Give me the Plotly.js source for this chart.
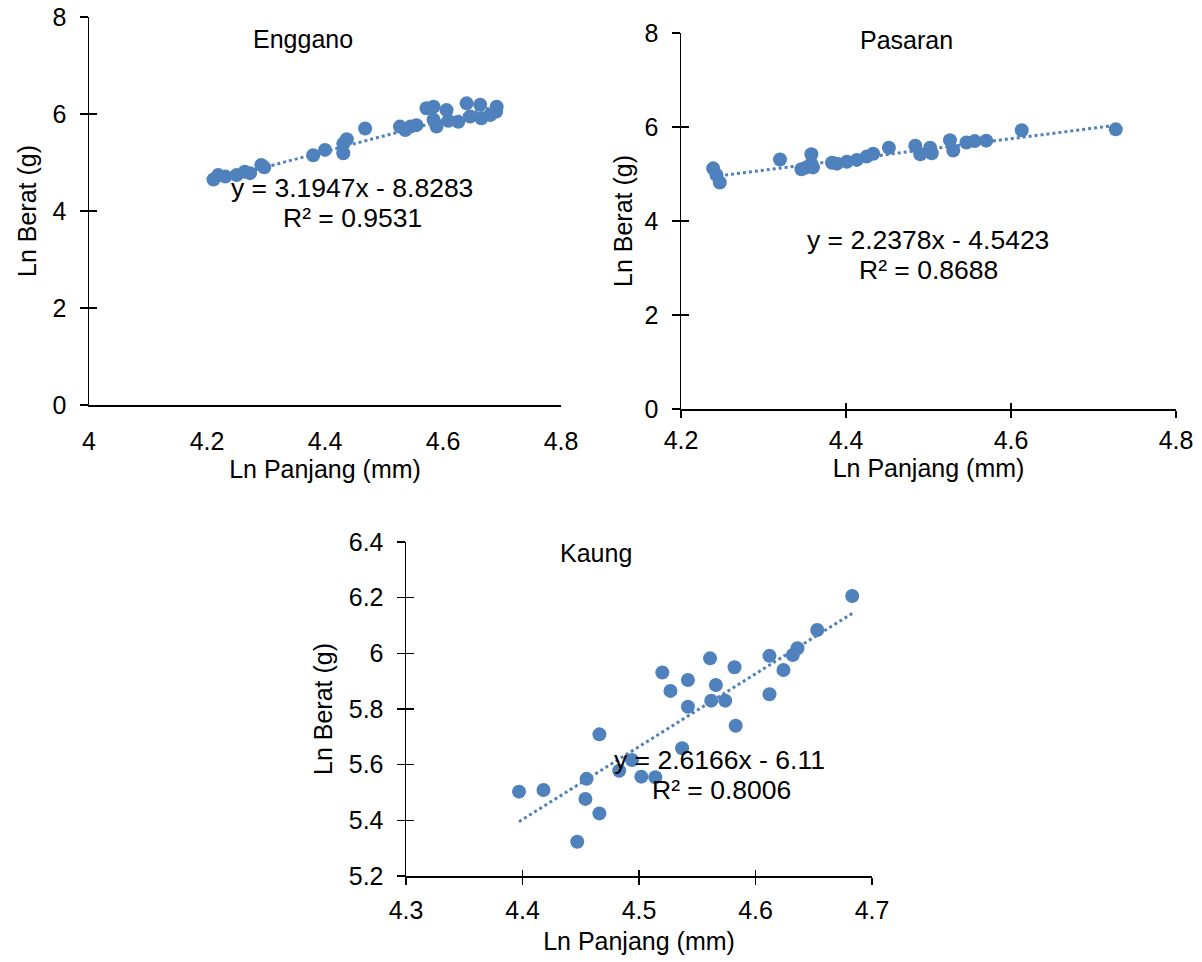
<!DOCTYPE html>
<html>
<head>
<meta charset="utf-8">
<script src="https://cdn.plot.ly/plotly-3.0.1.min.js"></script>
<style>html,body{margin:0;padding:0;background:#fff;}#chart{width:1202px;height:962px;}</style>
</head>
<body>
<div id="chart"></div>
<script>
// ---- Data ----
const engganoX = [4.211, 4.219, 4.231, 4.250, 4.264, 4.273, 4.292, 4.297, 4.380, 4.400, 4.431, 4.437, 4.431,
  4.468, 4.527, 4.536, 4.545, 4.555, 4.572, 4.584, 4.584, 4.589, 4.606, 4.609, 4.626, 4.640, 4.646, 4.663,
  4.665, 4.680, 4.691, 4.690];
const engganoY = [4.65, 4.74, 4.71, 4.74, 4.81, 4.78, 4.95, 4.90, 5.15, 5.26, 5.39, 5.48, 5.19,
  5.70, 5.74, 5.67, 5.74, 5.77, 6.12, 6.15, 5.88, 5.74, 6.08, 5.86, 5.84, 6.22, 5.95, 6.19,
  5.91, 5.98, 6.15, 6.05];

const pasaranX = [4.239, 4.243, 4.247, 4.320, 4.346, 4.352, 4.358, 4.358, 4.360, 4.383, 4.389, 4.401, 4.413,
  4.425, 4.433, 4.452, 4.484, 4.490, 4.502, 4.504, 4.526, 4.530, 4.546, 4.556, 4.570, 4.613, 4.727];
const pasaranY = [5.12, 4.98, 4.82, 5.31, 5.10, 5.14, 5.42, 5.22, 5.14, 5.24, 5.22, 5.26, 5.30,
  5.37, 5.43, 5.56, 5.60, 5.42, 5.56, 5.44, 5.72, 5.50, 5.67, 5.70, 5.71, 5.93, 5.95];

const kaungX = [4.397, 4.418, 4.447, 4.454, 4.455, 4.466, 4.466, 4.483, 4.494, 4.502, 4.514, 4.520, 4.527,
  4.537, 4.542, 4.542, 4.561, 4.562, 4.566, 4.574, 4.582, 4.583, 4.612, 4.612, 4.624, 4.632, 4.636,
  4.653, 4.683];
const kaungY = [5.503, 5.509, 5.323, 5.477, 5.549, 5.425, 5.709, 5.578, 5.617, 5.557, 5.555, 5.931, 5.865,
  5.659, 5.904, 5.808, 5.982, 5.830, 5.886, 5.830, 5.950, 5.740, 5.991, 5.853, 5.940, 5.994, 6.018,
  6.084, 6.206];

const siteNames = ["Enggano", "Pasaran", "Kaung"];
const slopes = [3.1947, 2.2378, 2.6166];
const intercepts = [-8.8283, -4.5423, -6.11];
const eqLabels = ["y = 3.1947x - 8.8283", "y = 2.2378x - 4.5423", "y = 2.6166x - 6.11"];
const r2Labels = ["R² = 0.9531", "R² = 0.8688", "R² = 0.8006"];
const xTitle = "Ln Panjang (mm)";
const yTitle = "Ln Berat (g)";

// ---- Styling ----
const BLUE = "#4F81BD";
const FONT = "Liberation Sans, Arial, sans-serif";
const W = 1202, H = 962;
const fs = 25;

// pixel boxes of the three plot areas [left, right, top, bottom]
const boxes = [[89, 561, 17, 405], [681, 1176, 33, 409], [406, 872, 542, 876]];
const xRanges = [[4, 4.8], [4.2, 4.8], [4.3, 4.7]];
const yRanges = [[0, 8], [0, 8], [5.2, 6.4]];
const xDt = [0.2, 0.2, 0.1];
const yDt = [2, 2, 0.2];
const xTickMode = ["", "outside", "outside"];
const xLabelGap = [13, 1, 4];
const xTitleGap = [0, 0, 10];
const yTitleGap = [9, 5, 9];

const xs = [engganoX, pasaranX, kaungX];
const ys = [engganoY, pasaranY, kaungY];

const traces = [];
const layout = {
  width: W, height: H,
  margin: {l: 0, r: 0, t: 0, b: 0},
  paper_bgcolor: "#fff", plot_bgcolor: "rgba(0,0,0,0)",
  showlegend: false,
  font: {family: FONT, size: fs, color: "#000"},
  annotations: []
};

// annotation anchor positions (data coords)
const titlePos = [[4.363, 7.55], [4.473, 7.85], [4.463, 6.362]];
const eqPos = [[4.445, 4.47], [4.499, 3.60], [4.5695, 5.615]];
const r2Pos = [[4.446, 3.86], [4.500, 2.96], [4.571, 5.510]];

for (let i = 0; i < 3; i++) {
  const n = i + 1;
  const xa = "x" + (n === 1 ? "" : n), ya = "y" + (n === 1 ? "" : n);
  const xk = "xaxis" + (n === 1 ? "" : n), yk = "yaxis" + (n === 1 ? "" : n);
  const b = boxes[i];
  // trendline from the fitted equation shown on the chart, over the data range
  const xmin = Math.min(...xs[i]), xmax = Math.max(...xs[i]);
  traces.push({
    type: "scatter", mode: "lines", x: [xmin, xmax],
    y: [slopes[i] * xmin + intercepts[i], slopes[i] * xmax + intercepts[i]],
    xaxis: xa, yaxis: ya, line: {color: BLUE, width: 3, dash: "dot"}, hoverinfo: "skip"
  });
  traces.push({
    type: "scatter", mode: "markers", x: xs[i], y: ys[i], name: siteNames[i],
    xaxis: xa, yaxis: ya, marker: {color: BLUE, size: 14}
  });
  layout[xk] = {
    domain: [b[0] / W, b[1] / W], anchor: ya, range: xRanges[i],
    tick0: xRanges[i][0], dtick: xDt[i], showgrid: false, zeroline: false,
    showline: true, linecolor: "#000", linewidth: 1.5,
    ticks: xTickMode[i], ticklen: 7, tickwidth: 1.5, tickcolor: "#000",
    ticklabelstandoff: xLabelGap[i],
    tickfont: {size: fs, family: FONT},
    title: {text: xTitle, font: {size: fs, family: FONT}, standoff: xTitleGap[i]}
  };
  layout[yk] = {
    domain: [1 - b[3] / H, 1 - b[2] / H], anchor: xa, range: yRanges[i],
    tick0: yRanges[i][0], dtick: yDt[i], showgrid: false, zeroline: false,
    showline: true, linecolor: "#000", linewidth: 1.5,
    ticks: "outside", ticklen: 8, tickwidth: 1.5, tickcolor: "#000",
    ticklabelstandoff: 8,
    tickformat: i === 2 ? "" : "d",
    tickfont: {size: fs, family: FONT},
    title: {text: yTitle, font: {size: fs, family: FONT}, standoff: yTitleGap[i]}
  };
  // overlay axes for the inward half of the crossing ticks
  const on = n + 3;
  const oxa = "x" + on, oya = "y" + on;
  traces.push({type: "scatter", mode: "markers", x: [], y: [], xaxis: oxa, yaxis: oya, hoverinfo: "skip"});
  layout["xaxis" + on] = {
    overlaying: xa, anchor: oya, range: xRanges[i], tick0: xRanges[i][0], dtick: xDt[i],
    showgrid: false, zeroline: false, showline: false, showticklabels: false,
    ticks: i === 0 ? "" : "inside", ticklen: 6, tickwidth: 1.5, tickcolor: "#000"
  };
  layout["yaxis" + on] = {
    overlaying: ya, anchor: oxa, range: yRanges[i], tick0: yRanges[i][0], dtick: yDt[i],
    showgrid: false, zeroline: false, showline: false, showticklabels: false,
    ticks: "inside", ticklen: 8, tickwidth: 1.5, tickcolor: "#000"
  };
  layout.annotations.push(
    {xref: xa, yref: ya, x: titlePos[i][0], y: titlePos[i][1], text: siteNames[i], showarrow: false,
     font: {size: fs, family: FONT}},
    {xref: xa, yref: ya, x: eqPos[i][0], y: eqPos[i][1], text: eqLabels[i], showarrow: false,
     font: {size: 26.5, family: FONT}},
    {xref: xa, yref: ya, x: r2Pos[i][0], y: r2Pos[i][1], text: r2Labels[i], showarrow: false,
     font: {size: 26.5, family: FONT}}
  );
}

Plotly.newPlot("chart", traces, layout, {staticPlot: true});
</script>
</body>
</html>
